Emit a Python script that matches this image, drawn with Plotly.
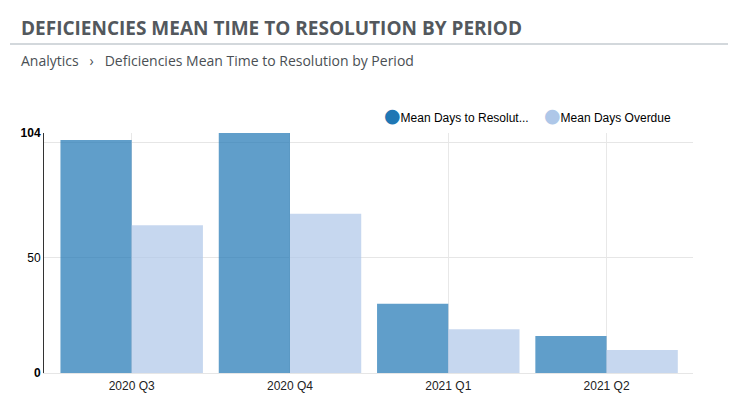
import plotly.graph_objects as go

# ---- data ----
periods = ["2020 Q3", "2020 Q4", "2021 Q1", "2021 Q2"]
mean_days_to_resolution = [101, 104, 30, 16]
mean_days_overdue = [64, 69, 19, 10]
series_names = ["Mean Days to Resolution", "Mean Days Overdue"]
legend_labels = ["Mean Days to Resolut...", "Mean Days Overdue"]
y_tick_values = [0, 50, 104]
y_tick_labels = ["<b>0</b>", "50", "<b>104</b>"]

title_text = "DEFICIENCIES MEAN TIME TO RESOLUTION BY PERIOD"
crumb_text = "Analytics\u00a0\u00a0\u00a0›\u00a0\u00a0\u00a0Deficiencies Mean Time to Resolution by Period"

# ---- styling ----
OFF = 8  # page body margin offset
W, H = 738 - OFF, 416 - OFF
ML, MT = 44 - OFF, 133 - OFF
MR = W - (693 - OFF)
MB = H - (373 - OFF)
PW, PH = W - ML - MR, H - MT - MB


def px_x(p):  # page pixel -> paper x
    return (p - OFF - ML) / PW


def px_y(p):  # page pixel -> paper y
    return 1 - (p - OFF - MT) / PH


dark_bar = "rgba(31,119,180,0.71)"
light_bar = "rgba(174,199,232,0.71)"
legend_colors = ["#1f77b4", "#aec7e8"]
axis_font = "Arial, 'Liberation Sans', sans-serif"

fig = go.Figure()
fig.add_trace(go.Bar(x=periods, y=mean_days_to_resolution, name=series_names[0],
                     marker=dict(color=dark_bar, line=dict(width=0)), showlegend=False))
fig.add_trace(go.Bar(x=periods, y=mean_days_overdue, name=series_names[1],
                     marker=dict(color=light_bar, line=dict(width=0)), showlegend=False))

# legend entries: circle glyph drawn in the entry text, one legend per entry
legend_ids = ["legend", "legend2"]
for lbl, col, lid in zip(legend_labels, legend_colors, legend_ids):
    fig.add_trace(go.Scatter(
        x=[None], y=[None], mode="markers", yaxis="y2", legend=lid,
        name=(f"<span style='color:{col};font-family:DejaVu Sans;font-size:19px'>●</span>"
              f"{lbl}"),
        marker=dict(color="rgba(0,0,0,0)", size=1), hoverinfo="skip"))

leg_common = dict(orientation="h", xanchor="left", yanchor="middle",
                  font=dict(family=axis_font, size=12, color="#000"),
                  bgcolor="rgba(0,0,0,0)", itemclick=False)

fig.update_layout(
    width=W, height=H,
    margin=dict(l=ML, r=MR, t=MT, b=MB, pad=0),
    paper_bgcolor="white", plot_bgcolor="white",
    barmode="group", bargap=0.1, bargroupgap=0,
    showlegend=True,
    legend=dict(x=px_x(385 - 41), y=px_y(117), **leg_common),
    legend2=dict(x=px_x(545 - 41), y=px_y(117), **leg_common),
    xaxis=dict(type="category", range=[-0.554, 3.546], showgrid=True, gridcolor="#e8e8e8",
               gridwidth=1, showline=True, linecolor="#e6e6e6", linewidth=1, ticks="",
               ticklabelstandoff=2,
               tickfont=dict(family=axis_font, size=12, color="#222"), zeroline=False,
               fixedrange=True),
    yaxis=dict(range=[0, 104], tickmode="array", tickvals=y_tick_values, ticktext=y_tick_labels,
               showgrid=False, showline=True, linecolor="#333", linewidth=1, ticks="",
               zeroline=False, tickfont=dict(family=axis_font, size=12, color="#000"),
               fixedrange=True),
    yaxis2=dict(overlaying="y", anchor="x", range=[0, 104], tickmode="linear", dtick=50, tick0=0,
                showgrid=True, gridcolor="#e6e6e6", showticklabels=False, showline=False,
                zeroline=False, ticks="", fixedrange=True),
    font=dict(family=axis_font),
)

fig.add_annotation(text=f"<b>{title_text}</b>", xref="paper", yref="paper",
                   x=px_x(19), y=px_y(28), xanchor="left", yanchor="middle", showarrow=False,
                   font=dict(family="'Open Sans', sans-serif", size=19, color="#53585d"))
fig.add_annotation(text=crumb_text, xref="paper", yref="paper",
                   x=px_x(19), y=px_y(61), xanchor="left", yanchor="middle", showarrow=False,
                   font=dict(family="'Open Sans', sans-serif", size=14, color="#4a4f54"))
fig.add_shape(type="line", xref="paper", yref="paper", x0=px_x(10), x1=px_x(728),
              y0=px_y(44), y1=px_y(44), line=dict(color="#d3d8dc", width=2))

fig.write_html("out.html")
